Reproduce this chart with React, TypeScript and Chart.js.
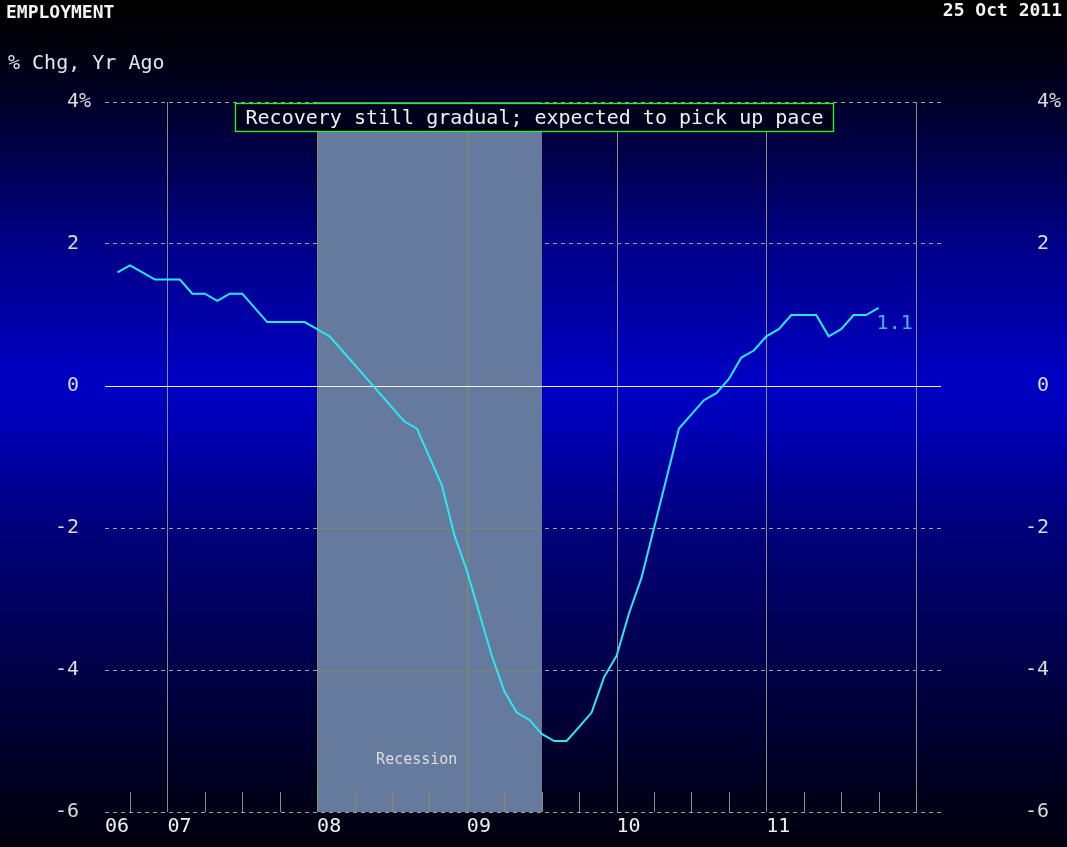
import React, { useEffect, useRef } from 'react';
import { Chart, registerables } from 'chart.js';

Chart.register(...registerables);

// ---------------- data ----------------
const TITLE = 'EMPLOYMENT';
const DATE_TEXT = '25 Oct 2011';
const SUBTITLE = '% Chg, Yr Ago';
const ANNOTATION = 'Recovery still gradual; expected to pick up pace';
const RECESSION_LABEL = 'Recession';

// first observation: August 2006 (monthly, % change from a year ago)
const FIRST_YEAR = 2006;
const FIRST_MONTH = 8;
const employmentYoY = [
  1.6, 1.7, 1.6, 1.5, 1.5, 1.5, 1.3, 1.3, 1.2, 1.3, 1.3, 1.1,
  0.9, 0.9, 0.9, 0.9, 0.8, 0.7, 0.5, 0.3, 0.1, -0.1, -0.3, -0.5,
  -0.6, -1.0, -1.4, -2.1, -2.6, -3.2, -3.8, -4.3, -4.6, -4.7, -4.9, -5.0,
  -5.0, -4.8, -4.6, -4.1, -3.8, -3.2, -2.7, -2.0, -1.3, -0.6, -0.4, -0.2,
  -0.1, 0.1, 0.4, 0.5, 0.7, 0.8, 1.0, 1.0, 1.0, 0.7, 0.8, 1.0,
  1.0, 1.1,
];

const yearLabels = ['06', '07', '08', '09', '10', '11'];
const yearValues = [2006, 2007, 2008, 2009, 2010, 2011];
const yTickValues = [-6, -4, -2, 0, 2, 4];

// recession: Dec 2007 through Jun 2009
const recessionStart = { year: 2007, month: 12 };
const recessionEnd = { year: 2009, month: 6 };

// visible window: end of Jul 2006 to end of Feb 2012
const axisStart = { year: 2006, month: 7 };
const axisEnd = { year: 2012, month: 2 };

// ---------------- helpers ----------------
const BASE_YEAR = 2006;
const monthPos = (year: number, month: number) => (year - BASE_YEAR) * 12 + month;
const FONT = '"DejaVu Sans Mono", "Liberation Mono", monospace';

const points = employmentYoY.map((v, i) => ({
  x: monthPos(FIRST_YEAR, FIRST_MONTH) + i,
  y: v,
}));

const xMin = monthPos(axisStart.year, axisStart.month);
const xMax = monthPos(axisEnd.year, axisEnd.month);
const recFrom = monthPos(recessionStart.year, recessionStart.month);
const recTo = monthPos(recessionEnd.year, recessionEnd.month);

const decorPlugin = {
  id: 'decor',
  beforeDraw(chart: any) {
    const { ctx, width, height } = chart;
    const g = ctx.createLinearGradient(0, 0, 0, height);
    g.addColorStop(0, '#000000');
    g.addColorStop(0.05, '#00000c');
    g.addColorStop(0.12, '#000028');
    g.addColorStop(0.29, '#000088');
    g.addColorStop(0.45, '#0000c4');
    g.addColorStop(0.5, '#0000b8');
    g.addColorStop(0.62, '#00007c');
    g.addColorStop(0.79, '#000048');
    g.addColorStop(0.95, '#000018');
    g.addColorStop(1, '#00000e');
    ctx.save();
    ctx.fillStyle = g;
    ctx.fillRect(0, 0, width, height);
    ctx.restore();
  },
  beforeDatasetsDraw(chart: any) {
    const { ctx, chartArea: a, scales } = chart;
    const xs = scales.x;
    const ys = scales.y;
    const rx0 = Math.round(xs.getPixelForValue(recFrom));
    const rx1 = Math.round(xs.getPixelForValue(recTo));
    ctx.save();
    // recession shading
    ctx.fillStyle = '#667a9e';
    ctx.fillRect(rx0, a.top, rx1 - rx0, a.bottom - a.top);
    // grid lines seen through shading
    ctx.lineWidth = 1;
    ctx.strokeStyle = '#7a8670';
    [-4, -2].forEach((v) => {
      const py = Math.round(ys.getPixelForValue(v)) + 0.5;
      ctx.beginPath();
      ctx.moveTo(rx0, py);
      ctx.lineTo(rx1, py);
      ctx.stroke();
    });
    // year lines and quarter ticks
    for (let m = Math.ceil(xMin); m <= xMax; m++) {
      if (m % 3 !== 0) continue;
      const px = Math.round(xs.getPixelForValue(m)) + 0.5;
      const inRec = px > rx0 && px < rx1;
      ctx.strokeStyle = inRec ? '#84905e' : '#8c8c84';
      const top = m % 12 === 0 ? a.top : a.bottom - 20;
      ctx.beginPath();
      ctx.moveTo(px, top);
      ctx.lineTo(px, a.bottom);
      ctx.stroke();
    }
    // zero line
    const y0 = Math.round(ys.getPixelForValue(0)) + 0.5;
    ctx.strokeStyle = '#f2f2f2';
    ctx.beginPath();
    ctx.moveTo(a.left, y0);
    ctx.lineTo(a.right, y0);
    ctx.stroke();
    ctx.restore();
  },
  afterDraw(chart: any) {
    const { ctx, scales, width } = chart;
    const xs = scales.x;
    const ys = scales.y;
    ctx.save();
    ctx.textBaseline = 'middle';

    // title & date
    ctx.fillStyle = '#f4f4f4';
    ctx.font = `bold 18px ${FONT}`;
    ctx.textAlign = 'left';
    ctx.fillText(TITLE, 6, 13);
    ctx.textAlign = 'right';
    ctx.fillText(DATE_TEXT, width - 5, 11);

    // subtitle
    ctx.font = `20px ${FONT}`;
    ctx.textAlign = 'left';
    ctx.fillStyle = '#e6e6e6';
    ctx.fillText(SUBTITLE, 8, 64);

    // annotation box
    const bx = 235.5, by = 103.5, bw = 598, bh = 28;
    ctx.fillStyle = '#00001c';
    ctx.fillRect(bx, by, bw, bh);
    ctx.strokeStyle = '#1cff1c';
    ctx.lineWidth = 1.3;
    ctx.strokeRect(bx, by, bw, bh);
    ctx.fillStyle = '#f0f0f0';
    ctx.textAlign = 'center';
    ctx.fillText(ANNOTATION, bx + bw / 2, by + bh / 2 + 1);

    // last value label
    const last = points[points.length - 1];
    const lx = xs.getPixelForValue(last.x);
    const ly = ys.getPixelForValue(last.y);
    ctx.fillStyle = '#4cb0e4';
    ctx.textAlign = 'left';
    ctx.font = `20px ${FONT}`;
    ctx.fillText(last.y.toFixed(1), lx - 2, ly + 16);

    // recession label
    const rx0 = xs.getPixelForValue(recFrom);
    ctx.font = `15px ${FONT}`;
    ctx.fillStyle = '#dedede';
    ctx.fillText(RECESSION_LABEL, rx0 + 59, 760);
    ctx.restore();
  },
};

export default function App() {
  const ref = useRef<HTMLCanvasElement>(null);
  useEffect(() => {
    document.body.style.margin = '0';
    const canvas = ref.current;
    if (!canvas) return;
    const chart = new Chart(canvas, {
      type: 'line',
      data: {
        datasets: [
          {
            label: 'Employment',
            data: points,
            borderColor: '#2ae8f2',
            borderWidth: 2,
            pointRadius: 0,
            tension: 0,
            fill: false,
          },
        ],
      },
      options: {
        responsive: false,
        animation: false,
        devicePixelRatio: 1,
        layout: { padding: { top: 102, right: 6, left: 0, bottom: 0 } },
        plugins: { legend: { display: false }, tooltip: { enabled: false } },
        scales: {
          x: {
            type: 'linear',
            min: xMin,
            max: xMax,
            grid: { display: false, drawTicks: false },
            border: { display: false },
            afterBuildTicks: (s: any) => {
              s.ticks = yearValues.map((yr) => ({ value: Math.max(xMin, monthPos(yr, 0)) }));
            },
            afterFit: (s: any) => {
              s.height = 35;
            },
            ticks: {
              autoSkip: false,
              maxRotation: 0,
              align: 'start',
              padding: 3,
              color: '#f0f0f0',
              font: { family: FONT, size: 20 },
              callback: (_v: any, i: number) => yearLabels[i],
            },
          },
          y: {
            type: 'linear',
            position: 'left',
            min: -6,
            max: 4,
            afterBuildTicks: (s: any) => {
              s.ticks = yTickValues.map((v) => ({ value: v }));
            },
            afterFit: (s: any) => {
              s.width = 105;
            },
            grid: {
              drawTicks: false,
              color: (c: any) => (c.tick && c.tick.value === 0 ? 'rgba(0,0,0,0)' : '#a0a0a0'),
              lineWidth: 1,
            },
            border: { display: false, dash: [4, 4] },
            ticks: {
              padding: 14,
              color: '#dcdcdc',
              font: { family: FONT, size: 20 },
              callback: (v: any) => (v === 4 ? '4%' : `${v} `),
            },
          },
          y2: {
            type: 'linear',
            position: 'right',
            min: -6,
            max: 4,
            afterBuildTicks: (s: any) => {
              s.ticks = yTickValues.map((v) => ({ value: v }));
            },
            afterFit: (s: any) => {
              s.width = 120;
            },
            grid: { display: false, drawTicks: false },
            border: { display: false },
            ticks: {
              crossAlign: 'far',
              color: '#dcdcdc',
              font: { family: FONT, size: 20 },
              callback: (v: any) => (v === 4 ? '4%' : `${v} `),
            },
          },
        },
      },
      plugins: [decorPlugin],
    } as any);
    return () => chart.destroy();
  }, []);
  return (
    <div style={{ width: 1067, height: 847, position: 'relative', overflow: 'hidden' }}>
      <canvas ref={ref} width={1067} height={847} style={{ display: 'block' }} />
    </div>
  );
}
